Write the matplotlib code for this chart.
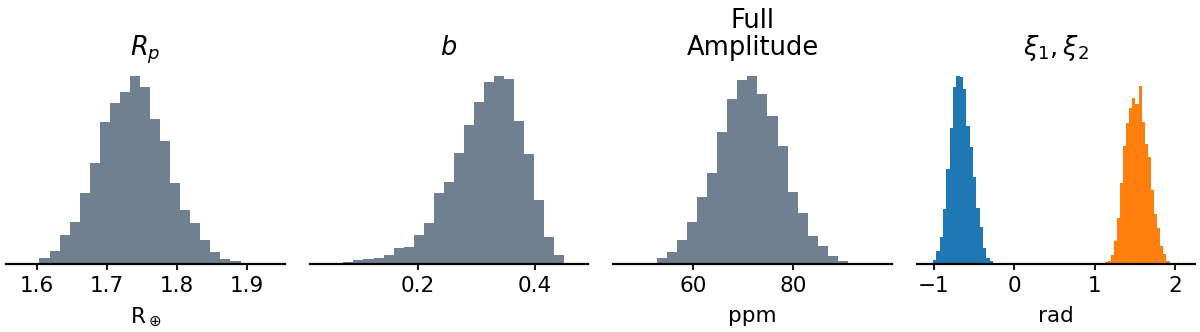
import numpy as np
import matplotlib
matplotlib.use("Agg")
import matplotlib.pyplot as plt

# ---- data (histogram counts, arbitrary units) ----
rp_edges_range = (1.5895, 1.8914)
rp_counts = [4, 18, 38, 87, 127, 214, 304, 427, 484, 515, 564, 532, 436, 369,
             242, 162, 122, 72, 37, 15, 8]

b_edges_range = (0.0371, 0.4509)
b_counts = [2, 3, 6, 13, 16, 19, 27, 47, 50, 86, 122, 214, 246, 332, 417, 486,
            547, 564, 554, 429, 329, 193, 81, 26]

amp_edges_range = (48.67, 92.93)
amp_counts = [2, 4, 18, 36, 73, 126, 201, 275, 397, 497, 555, 566, 513, 446,
              356, 218, 153, 83, 53, 24, 10, 4]

xi1_edges_range = (-1.05, -0.22)
xi1_counts = [4, 12, 40, 80, 165, 286, 407, 532, 564, 562, 525, 414, 352, 260,
              167, 110, 49, 19, 9, 3]

xi2_edges_range = (1.124, 1.971)
xi2_counts = [5, 9, 27, 69, 138, 242, 353, 422, 469, 497, 479, 535, 427, 359,
              322, 222, 150, 107, 54, 29, 9, 4]

titles = [r"$R_p$", r"$b$", "Full\nAmplitude", r"$\xi_1, \xi_2$"]
xlabels = [r"R$_\oplus$", "", "ppm", "rad"]
xticks = [[1.6, 1.7, 1.8, 1.9], [0.2, 0.4], [60, 80], [-1, 0, 1, 2]]
xlims = [(1.556, 1.955), (0.0143, 0.4914), (44.0, 99.67), (-1.2075, 2.249)]

gray = "#708090"

fig = plt.figure(figsize=(12, 3.32), dpi=100)
lefts = [6, 310, 613, 917]
widths = [279, 278, 279, 278]
bottom = (332 - 264) / 332
height = 197.4 / 332


def draw_hist(ax, rng, counts, color):
    edges = np.linspace(rng[0], rng[1], len(counts) + 1)
    ax.hist(edges[:-1], bins=edges, weights=counts, color=color,
            linewidth=0)


axes = []
for i in range(4):
    ax = fig.add_axes([lefts[i] / 1200, bottom, widths[i] / 1200, height])
    axes.append(ax)

draw_hist(axes[0], rp_edges_range, rp_counts, gray)
draw_hist(axes[1], b_edges_range, b_counts, gray)
draw_hist(axes[2], amp_edges_range, amp_counts, gray)
draw_hist(axes[3], xi1_edges_range, xi1_counts, "#1f77b4")
draw_hist(axes[3], xi2_edges_range, xi2_counts, "#ff7f0e")

for i, ax in enumerate(axes):
    for s in ["left", "top", "right"]:
        ax.spines[s].set_visible(False)
    ax.spines["bottom"].set_linewidth(1.6)
    ax.set_yticks([])
    ax.set_xticks(xticks[i])
    ax.set_xlim(*xlims[i])
    ax.tick_params(axis="x", labelsize=15.5, length=4.5, width=1.3, pad=4.5)
    ax.set_title(titles[i], fontsize=18.5, pad=8, linespacing=1.08)
    if xlabels[i]:
        ax.set_xlabel(xlabels[i], fontsize=15.5, labelpad=7)

fig.savefig("out.png", dpi=100)
